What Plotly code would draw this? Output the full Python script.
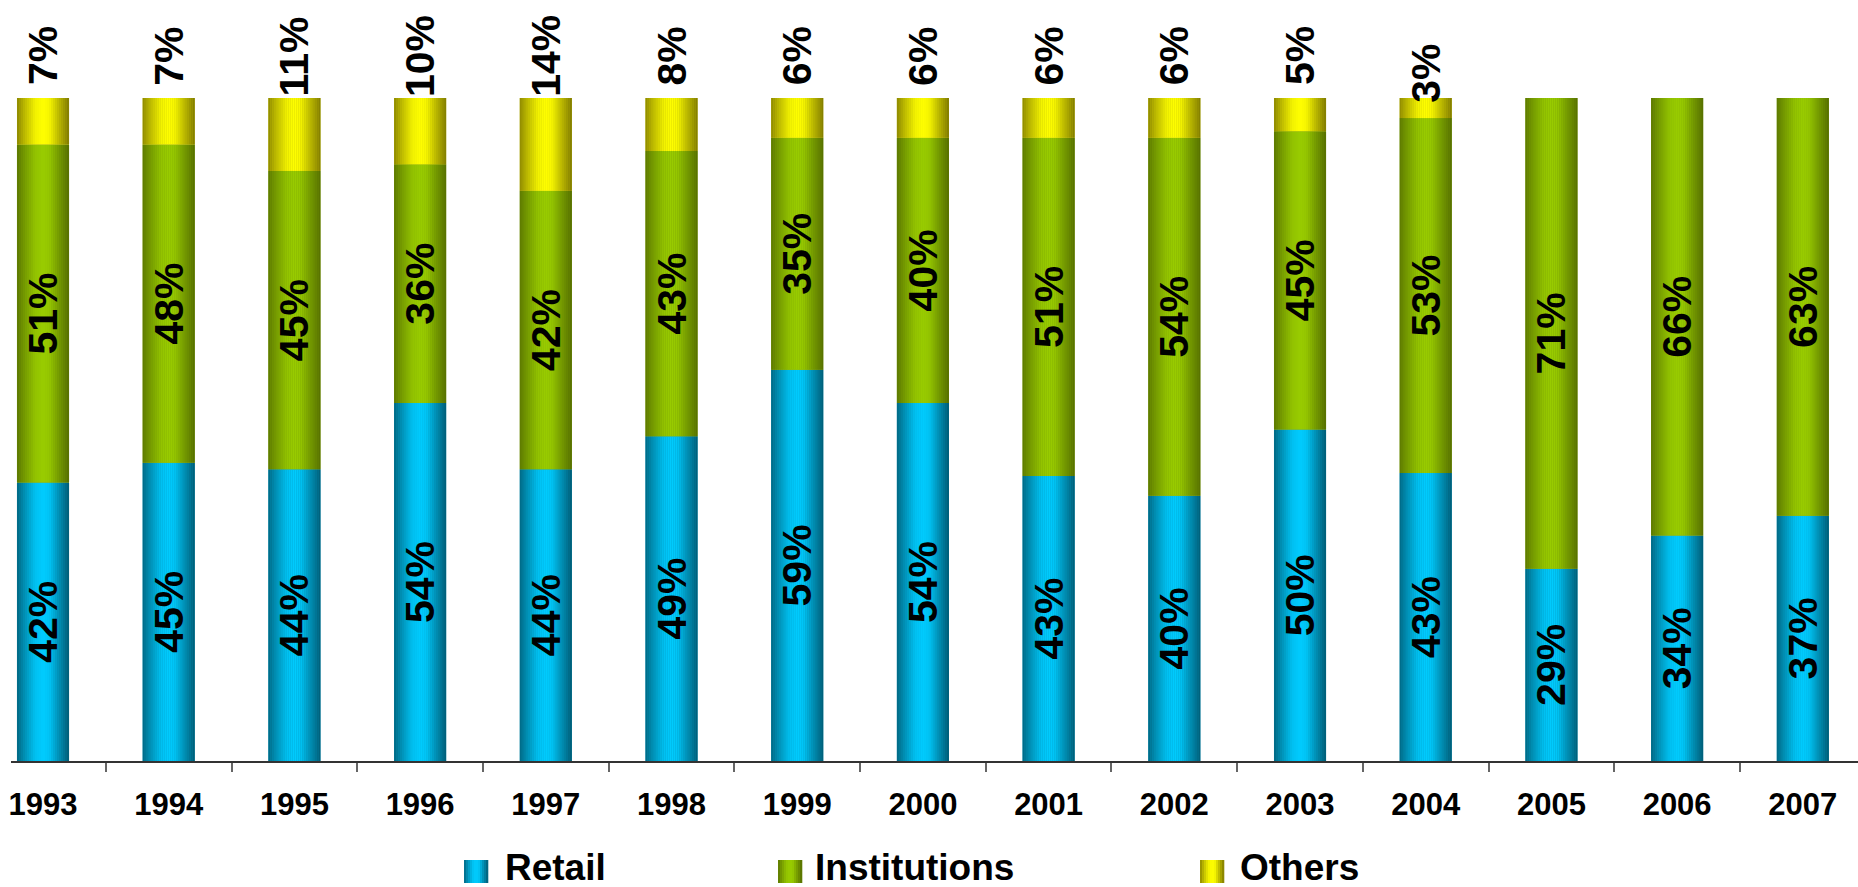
import plotly.graph_objects as go

# ---- data -------------------------------------------------------------
years = ["1993", "1994", "1995", "1996", "1997", "1998", "1999", "2000",
         "2001", "2002", "2003", "2004", "2005", "2006", "2007"]
retail = [42, 45, 44, 54, 44, 49, 59, 54, 43, 40, 50, 43, 29, 34, 37]
institutions = [51, 48, 45, 36, 42, 43, 35, 40, 51, 54, 45, 53, 71, 66, 63]
others = [7, 7, 11, 10, 14, 8, 6, 6, 6, 6, 5, 3, 0, 0, 0]
series_names = ["Retail", "Institutions", "Others"]

# ---- style ------------------------------------------------------------
FONT = "Liberation Sans, Arial, sans-serif"
BAR_W = 0.414          # bar width in category units
N_STRIPS = 26          # vertical strips used to shade each bar like a cylinder
# (edge colour, centre colour) per series
SHADES = {
    "Retail": ((0, 86, 110), (0, 204, 255)),
    "Institutions": ((82, 106, 0), (153, 204, 0)),
    "Others": ((122, 116, 0), (255, 255, 0)),
}
# brightness profile across the bar (0 = edge colour, 1 = centre colour)
PROFILE = [(0.0, 0.15), (0.15, 0.5), (0.35, 0.9), (0.5, 1.0),
           (0.62, 0.93), (0.8, 0.5), (1.0, 0.05)]


def profile_at(t):
    for (t0, f0), (t1, f1) in zip(PROFILE[:-1], PROFILE[1:]):
        if t0 <= t <= t1:
            return f0 + (f1 - f0) * (t - t0) / (t1 - t0)
    return PROFILE[-1][1]


def mix(edge, centre, f):
    return "rgb(%d,%d,%d)" % tuple(round(e + (c - e) * f) for e, c in zip(edge, centre))


# normalise each year to 100 % (100 % stacked columns)
totals = [r + i + o for r, i, o in zip(retail, institutions, others)]
pct = {
    "Retail": [100 * v / t for v, t in zip(retail, totals)],
    "Institutions": [100 * v / t for v, t in zip(institutions, totals)],
    "Others": [100 * v / t for v, t in zip(others, totals)],
}
raw = {"Retail": retail, "Institutions": institutions, "Others": others}
bases = {}
running = [0.0] * len(years)
for name in series_names:
    bases[name] = list(running)
    running = [b + v for b, v in zip(running, pct[name])]

fig = go.Figure()

for name in series_names:
    edge, centre = SHADES[name]
    # solid underlay so no white seams appear between strips
    fig.add_trace(go.Bar(
        x=years, y=pct[name], base=bases[name], width=BAR_W, offset=-BAR_W / 2,
        marker=dict(color=mix(edge, centre, 0.5), line=dict(width=0)),
        hoverinfo="skip", showlegend=False,
    ))
    sw = BAR_W / N_STRIPS
    for k in range(N_STRIPS):
        t = (k + 0.5) / N_STRIPS
        fig.add_trace(go.Bar(
            x=years, y=pct[name], base=bases[name], width=sw * 1.02,
            offset=-BAR_W / 2 + k * sw,
            marker=dict(color=mix(edge, centre, profile_at(t)), line=dict(width=0)),
            hoverinfo="skip", showlegend=False,
        ))

# value labels centred inside the Retail and Institutions segments
for name in ["Retail", "Institutions"]:
    fig.add_trace(go.Bar(
        x=years, y=pct[name], base=bases[name], width=BAR_W, offset=-BAR_W / 2,
        marker=dict(color="rgba(0,0,0,0)", line=dict(width=0)),
        text=["%d%%" % v for v in raw[name]],
        textposition="inside", insidetextanchor="middle", textangle=-90,
        constraintext="none",
        textfont=dict(family=FONT, size=41, color="black", weight="bold"),
        hoverinfo="skip", showlegend=False,
    ))

# "Others" labels sit above the top of each column
top_shift = [42, 42, 42, 42, 42, 42, 42, 42, 42, 42, 42, 25, 42, 42, 42]
tops = running
for idx, (v, top, sh) in enumerate(zip(others, tops, top_shift)):
    if v > 0:
        fig.add_annotation(
            x=idx, y=top, xref="x", yref="y", text="%d%%" % v, showarrow=False,
            textangle=-90, yanchor="middle", xanchor="center", yshift=sh,
            font=dict(family=FONT, size=41, color="black", weight="bold"),
        )

# ---- layout -----------------------------------------------------------
W, H = 1858, 887
ML, MR, MT, MB = 11, 0, 0, 126
PLOT_W = W - ML - MR
PLOT_H = H - MT - MB
BAR_TOP_PX = 98  # pixel row of 100 %
y_max = 100 * PLOT_H / (PLOT_H - BAR_TOP_PX)

fig.update_layout(
    width=W, height=H, barmode="overlay",
    margin=dict(l=ML, r=MR, t=MT, b=MB, pad=0),
    paper_bgcolor="white", plot_bgcolor="white",
    showlegend=False,
    xaxis=dict(
        type="category", range=[-0.2546, 14.439],
        showgrid=False, zeroline=False,
        showline=True, linecolor="#333333", linewidth=2,
        ticks="outside", tickson="boundaries", ticklen=9, tickwidth=1.5,
        tickcolor="#666666", ticklabelstandoff=15,
        tickfont=dict(family=FONT, size=31, color="black", weight="bold"),
    ),
    yaxis=dict(range=[0, y_max], visible=False, showgrid=False, zeroline=False),
)


# ---- legend (cylinder-shaded swatches with labels) ---------------------
def px_x(p):
    return (p - ML) / PLOT_W


def px_y(p):
    return (H - MB - p) / PLOT_H


legend_swatch_x = [464, 778, 1200]
legend_text_x = [503, 813, 1238]
SW_W, SW_TOP, SW_BOT = 24, 860, 883
for name, sx, tx in zip(series_names, legend_swatch_x, legend_text_x):
    edge, centre = SHADES[name]
    n = 12
    for k in range(n):
        t = (k + 0.5) / n
        fig.add_shape(
            type="rect", xref="paper", yref="paper",
            x0=px_x(sx + k * SW_W / n), x1=px_x(sx + (k + 1) * SW_W / n + 0.3),
            y0=px_y(SW_BOT), y1=px_y(SW_TOP),
            fillcolor=mix(edge, centre, profile_at(t)), line=dict(width=0),
            layer="above",
        )
    fig.add_annotation(
        x=px_x(tx), y=px_y(868), xref="paper", yref="paper",
        text=name, showarrow=False, xanchor="left", yanchor="middle",
        font=dict(family=FONT, size=37, color="black", weight="bold"),
    )

fig.write_html("out.html")
